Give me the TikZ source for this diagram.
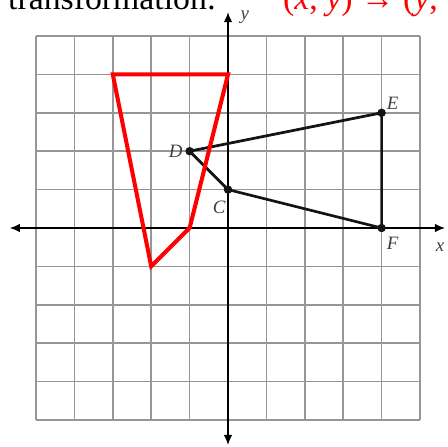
\documentclass[tikz,border=0pt]{standalone}
\usepackage{fontspec}
\setmainfont{Liberation Serif}
\usepackage{tikz}
\usetikzlibrary{arrows.meta, positioning}
\definecolor{mygrid}{RGB}{150,150,150}
\definecolor{myred}{RGB}{255,0,0}
\definecolor{mydark}{RGB}{20,20,20}
\tikzset{
  gridline/.style={draw=mygrid, line width=1.2pt},
  axisline/.style={-{Latex[length=2.6mm,width=2.2mm]}, line width=0.9pt, color=black},
  shapeline/.style={line width=2pt, color=mydark},
  redshape/.style={line width=3pt, color=myred, line join=miter},
  dot/.style={circle, fill=mydark, inner sep=0pt, minimum size=2.2mm},
  ptlabel/.style={font=\fontsize{14}{16}\selectfont\itshape, text=black!75, inner sep=0pt}
}

\begin{document}
\begin{tikzpicture}
  % Canvas
  \useasboundingbox (-5.9375,-5.677) rectangle (5.729,5.9375);
  \clip (-5.9375,-5.677) rectangle (5.729,5.9375);

  % Heading (cut at the top)
  \node[anchor=base west, inner sep=0pt, font=\fontsize{25}{30}\selectfont] (hdr) at (-5.73,5.703) {transformation:};
  \node[anchor=base west, inner sep=0pt, font=\fontsize{25}{30}\selectfont, text=myred] (rule) at (1.43,5.703) {(\textit{x}, \textit{y}) \textrightarrow{} (\textit{y},};

  % Grid
  \draw[gridline] (-5,-5) grid (5,5);

  % Axes
  \draw[axisline] (-5.0,0) -- (5.65,0);
  \draw[axisline] (-5.0,0) -- (-5.68,0);
  \draw[axisline] (0,-5.0) -- (0,5.62);
  \draw[axisline] (0,-5.0) -- (0,-5.65);
  \node[ptlabel] (xlbl) at (5.52,-0.49) {x};
  \node[ptlabel] (ylbl) at (0.44,5.50) {y};

  % Figure CDEF
  \coordinate (C) at (0,1);
  \coordinate (D) at (-1,2);
  \coordinate (E) at (4,3);
  \coordinate (F) at (4,0);
  \draw[shapeline] (D) -- (E) -- (F) -- (C) -- cycle;
  \foreach \p in {C,D,E,F}
    \node[dot] at (\p) {};
  \node[ptlabel, xshift=-0.23cm, yshift=-0.45cm] (lC) at (C) {C};
  \node[ptlabel, xshift=-0.36cm] (lD) at (D) {D};
  \node[ptlabel, xshift=0.29cm, yshift=0.26cm] (lE) at (E) {E};
  \node[ptlabel, xshift=0.29cm, yshift=-0.39cm] (lF) at (F) {F};

  % Image (red)
  \coordinate (R1) at (-3,4);
  \coordinate (R2) at (0,4);
  \coordinate (R3) at (-1,0);
  \coordinate (R4) at (-2,-1);
  \draw[redshape] (R1) -- (R2) -- (R3) -- (R4) -- cycle;
\end{tikzpicture}
\end{document}
